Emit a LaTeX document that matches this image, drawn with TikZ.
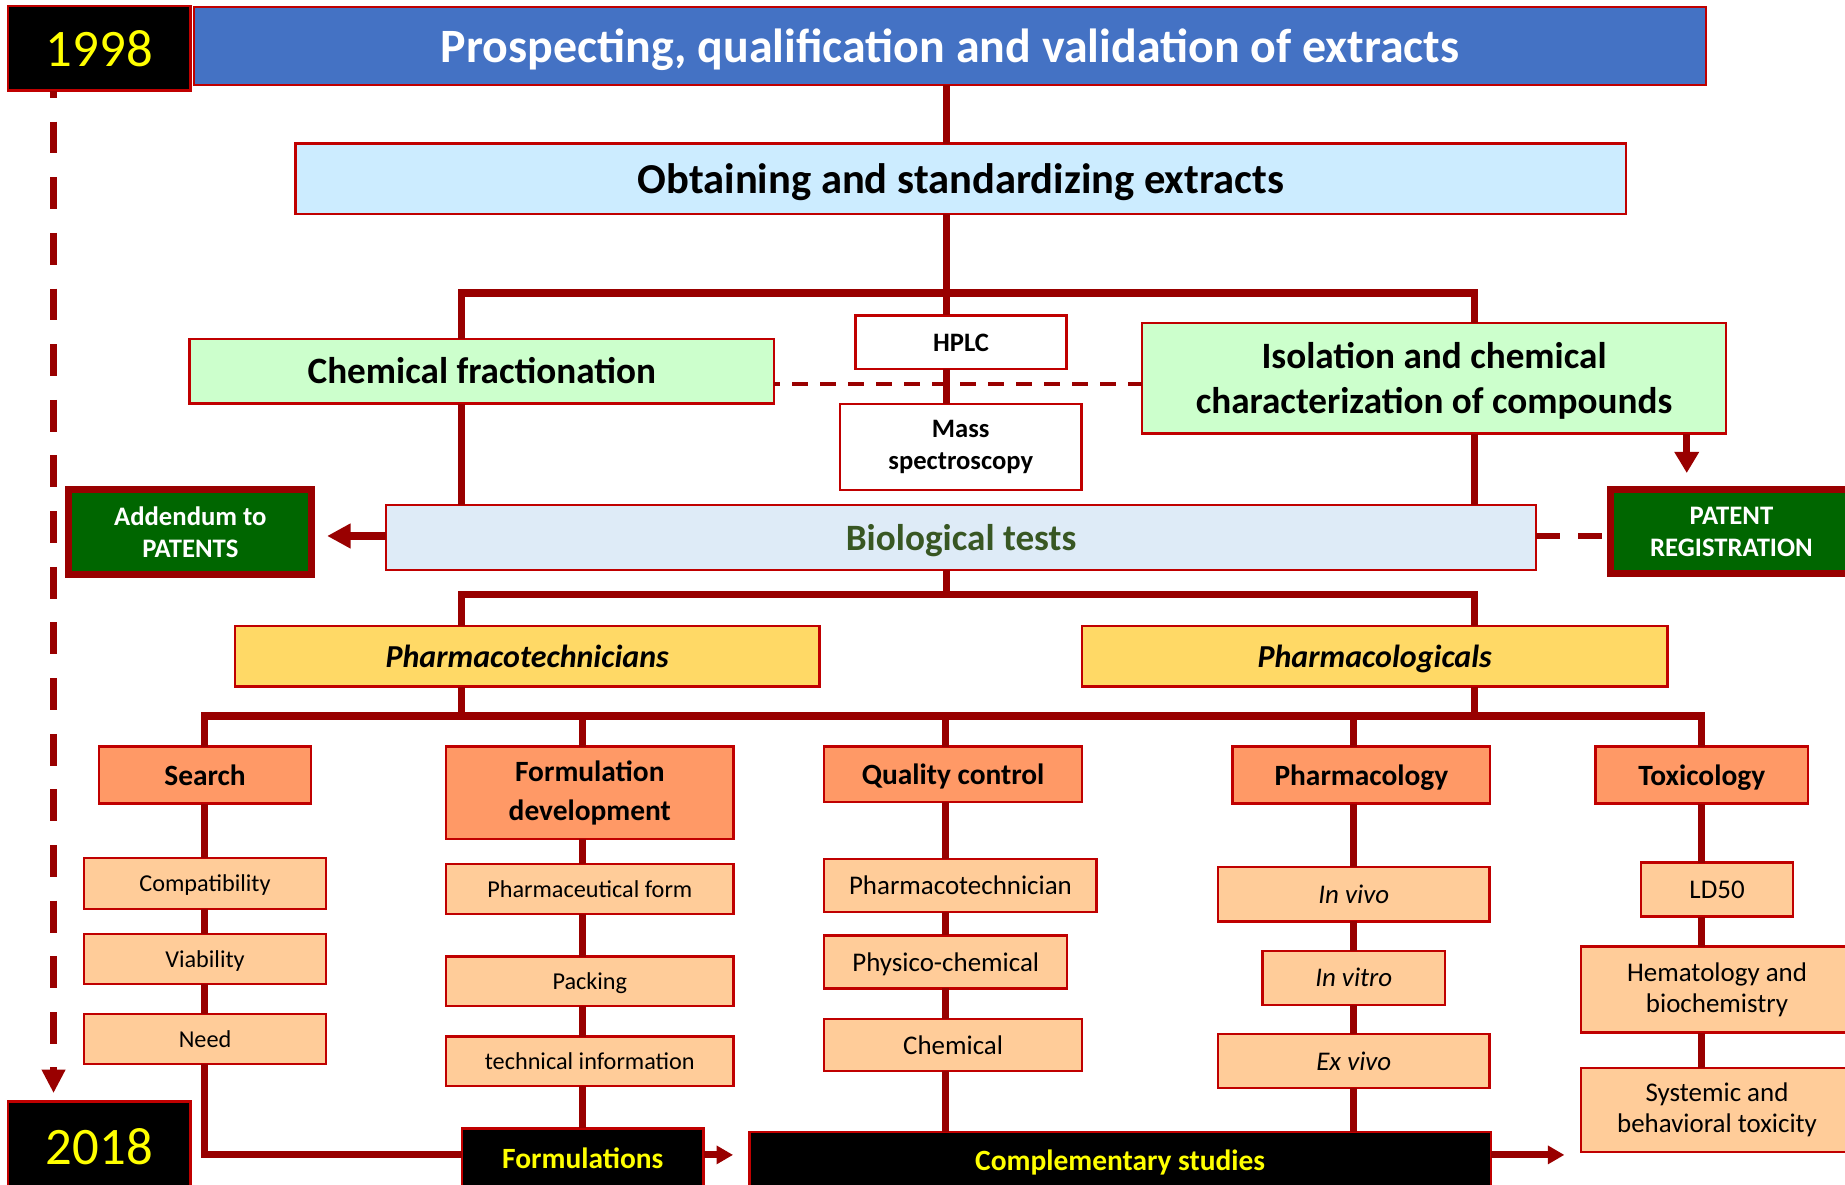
\documentclass[tikz,border=0pt]{standalone}
\usepackage{fontspec}
\setmainfont{Carlito}
\usetikzlibrary{arrows.meta}

\definecolor{wire}{HTML}{990000}
\definecolor{rim}{HTML}{C00000}
\definecolor{titleblue}{HTML}{4472C4}
\definecolor{skyfill}{HTML}{CCECFF}
\definecolor{mintfill}{HTML}{CCFFCC}
\definecolor{biofill}{HTML}{DEEBF7}
\definecolor{biotext}{HTML}{385723}
\definecolor{goldfill}{HTML}{FFD966}
\definecolor{orangefill}{HTML}{FF9966}
\definecolor{peachfill}{HTML}{FFCC99}
\definecolor{patentgreen}{HTML}{006600}
\definecolor{yearyellow}{HTML}{FFFF00}

% box from corner (x1,y1) to corner (x2,y2), y growing downwards
\newcommand\boxat[7]{%
  \node[#6, minimum width={(#4-#2)*0.5pt}, minimum height={(#5-#3)*0.5pt}]
    (#1) at ({(#2+#4)/2},{(#3+#5)/2}) {#7};}

\tikzset{
  box/.style={draw=rim, line width=1pt, inner sep=0pt, outer sep=0pt, align=center},
  % fixed ascent/descent so one-line labels sit on a common baseline
  solo/.style={execute at begin node={\rule{0pt}{0.96em}},
    execute at end node={\rule[-0.28em]{0pt}{0.28em}}},
  yearbox/.style={box, solo, fill=black, text=yearyellow, font=\fontsize{22.4}{26}\selectfont},
  titlebox/.style={box, solo, fill=titleblue, text=white, font=\fontsize{20.35}{24}\selectfont\bfseries},
  skybox/.style={box, solo, fill=skyfill, font=\fontsize{18.1}{21}\selectfont\bfseries},
  mintbox/.style={box, fill=mintfill, font=\fontsize{15.8}{19.1}\selectfont\bfseries},
  instrbox/.style={box, fill=white, font=\fontsize{11.3}{13.5}\selectfont\bfseries},
  greenbox/.style={box, draw=wire, line width=3pt, fill=patentgreen, text=white,
    font=\fontsize{11.35}{13.5}\selectfont\bfseries},
  biobox/.style={box, solo, fill=biofill, text=biotext, font=\fontsize{15.8}{19}\selectfont\bfseries},
  goldbox/.style={box, solo, fill=goldfill, font=\fontsize{13.6}{16}\selectfont\bfseries\itshape},
  headbox/.style={box, fill=orangefill, font=\fontsize{12.5}{16.5}\selectfont\bfseries},
  subbox/.style={box, solo, fill=peachfill, font=\fontsize{10.3}{13}\selectfont},
  subboxL/.style={box, fill=peachfill, font=\fontsize{11.45}{13.3}\selectfont},
  italbox/.style={subboxL, solo, font=\fontsize{11.45}{13.3}\selectfont\itshape},
  blackbox/.style={box, solo, fill=black, text=yearyellow, font=\fontsize{12.5}{14}\selectfont\bfseries},
  conn/.style={draw=wire, line width=3pt},
  dashconn/.style={draw=wire, line width=1.75pt, dash pattern=on 6.65pt off 5.25pt, dash phase=4.2pt},
}

\begin{document}
\begin{tikzpicture}[x=0.5pt, y=-0.5pt]
\useasboundingbox (0,0) rectangle (1568,1007);

% ---------- boxes ----------
\boxat{y98}{7}{5}{162}{77}{yearbox}{1998}
\boxat{title}{165}{6}{1450}{72}{titlebox}{Prospecting, qualification and validation of extracts}
\boxat{obtain}{251}{122}{1382}{182}{skybox}{Obtaining and standardizing extracts}
\boxat{chem}{161}{288}{658}{343}{mintbox, solo}{Chemical fractionation}
\boxat{iso}{970.5}{274.5}{1467}{368.5}{mintbox}{\rule{0pt}{0.86em}Isolation and chemical\\characterization of compounds}
\boxat{hplc}{727}{268}{906.5}{313.5}{instrbox, solo}{HPLC}
\boxat{mass}{714}{343.5}{919}{416.5}{instrbox}{Mass\\spectroscopy}
\boxat{addendum}{58.5}{416}{265}{488}{greenbox}{Addendum to\\PATENTS}
\boxat{patent}{1369}{416}{1574}{487.5}{greenbox}{PATENT\\REGISTRATION}
\boxat{bio}{328}{429}{1305.5}{484.5}{biobox}{Biological tests}
\boxat{ptech}{199.5}{532}{696.5}{583.5}{goldbox}{Pharmacotechnicians}
\boxat{pcol}{919.5}{532}{1417}{583.5}{goldbox}{Pharmacologicals}

\boxat{search}{84}{634.5}{264.5}{683}{headbox, solo}{Search}
\boxat{formdev}{379}{634.5}{623.5}{713}{headbox}{Formulation\\development}
\boxat{qc}{700.5}{634.5}{919.5}{681.5}{headbox, solo}{Quality control}
\boxat{pharm}{1047.5}{634.5}{1266.5}{683}{headbox, solo}{Pharmacology}
\boxat{tox}{1356}{634.5}{1536.5}{683}{headbox, solo}{Toxicology}

\boxat{compat}{71.5}{729}{277}{772.5}{subbox}{Compatibility}
\boxat{viab}{71.5}{794}{277}{836}{subbox}{Viability}
\boxat{need}{71.5}{862}{277}{904}{subbox}{Need}
\boxat{pform}{379}{734}{623.5}{777}{subbox}{Pharmaceutical form}
\boxat{pack}{379}{813}{623.5}{855}{subbox}{Packing}
\boxat{tinfo}{379}{881}{623.5}{923}{subbox}{technical information}
\boxat{qtech}{700.5}{730}{932}{775}{subboxL, solo}{Pharmacotechnician}
\boxat{physchem}{700.5}{795}{907}{840}{subboxL, solo}{Physico-chemical}
\boxat{chemq}{700.5}{866}{919.5}{910}{subboxL, solo}{Chemical}
\boxat{invivo}{1035}{737}{1266}{783}{italbox}{In vivo}
\boxat{invitro}{1073}{808}{1228}{854}{italbox}{In vitro}
\boxat{exvivo}{1035}{879}{1266}{924.5}{italbox}{Ex vivo}
\boxat{ld}{1394.5}{733}{1524}{779}{subboxL, solo}{LD50}
\boxat{hemato}{1343.5}{804.5}{1575}{877.5}{subboxL}{Hematology and\\biochemistry}
\boxat{systox}{1343.5}{907.5}{1575}{979}{subboxL}{Systemic and\\behavioral toxicity}

\boxat{formul}{392.5}{959}{598}{1010}{blackbox}{Formulations}
\boxat{comp}{637}{962}{1267}{1010}{blackbox}{Complementary studies}
\boxat{y18}{7}{936}{162}{1012}{yearbox}{2018}

% ---------- junction points ----------
\coordinate (mid) at (804,249);
\coordinate (leftx) at (392.5,249);
\coordinate (rightx) at (1253,249);
\coordinate (dashy) at (0,326);
\coordinate (px) at (1433.5,0);
\coordinate (by) at (0,455.5);
\coordinate (b0) at (804,505);
\coordinate (bL) at (392.5,505);
\coordinate (bR) at (1253,505);
\coordinate (c1) at (392.5,608.5);
\coordinate (c2) at (1253,608.5);
\coordinate (colS) at (174,608.5);
\coordinate (colF) at (495,608.5);
\coordinate (colQ) at (803.5,608.5);
\coordinate (colP) at (1150.5,608.5);
\coordinate (colT) at (1446,608.5);
\coordinate (elbow) at (174,981.5);
\coordinate (outtip) at (1329.5,981.5);
\coordinate (tl) at (45.5,0);
\coordinate (tlend) at (45.5,896);
\coordinate (tlhead) at (45.5,907);

% ---------- upper tree ----------
\draw[conn] (title.south -| mid) -- (obtain.north -| mid);
\draw[conn] (obtain.south -| mid) -- (mid);
\draw[conn] (chem.north -| leftx) -- (leftx) -- (rightx) -- (iso.north -| rightx);
\draw[conn] (mid) -- (hplc.north -| mid);
\draw[conn] (hplc.south -| mid) -- (mass.north -| mid);
\draw[conn] (chem.south -| leftx) -- (bio.north -| leftx);
\draw[conn] (iso.south -| rightx) -- (bio.north -| rightx);
\draw[dashconn] (chem.east |- dashy) -- (iso.west |- dashy);
\draw[conn, -{Triangle[length=9pt,width=10pt]}, shorten >=7pt]
  (iso.south -| px) -- (patent.north -| px);
\draw[conn, line width=3.3pt, -{Triangle[length=10pt,width=10pt]}, shorten >=6.5pt]
  (bio.west |- by) -- (addendum.east |- by);
\draw[draw=wire, line width=2.5pt, dash pattern=on 10pt off 7.8pt]
  (bio.east |- by) -- (patent.west |- by);

% ---------- lower tree ----------
\draw[conn] (bio.south -| b0) -- (b0);
\draw[conn] (ptech.north -| bL) -- (bL) -- (bR) -- (pcol.north -| bR);
\draw[conn] (ptech.south -| c1) -- (c1);
\draw[conn] (pcol.south -| c2) -- (c2);
\draw[conn] (search.north -| colS) -- (colS) -- (colT) -- (tox.north -| colT);
\draw[conn] (colF) -- (formdev.north -| colF);
\draw[conn] (colQ) -- (qc.north -| colQ);
\draw[conn] (colP) -- (pharm.north -| colP);

% search column
\draw[conn] (search.south -| colS) -- (compat.north -| colS);
\draw[conn] (compat.south -| colS) -- (viab.north -| colS);
\draw[conn] (viab.south -| colS) -- (need.north -| colS);
\draw[conn] (need.south -| colS) -- (elbow) -- (formul.west |- elbow);
% formulation column
\draw[conn] (formdev.south -| colF) -- (pform.north -| colF);
\draw[conn] (pform.south -| colF) -- (pack.north -| colF);
\draw[conn] (pack.south -| colF) -- (tinfo.north -| colF);
\draw[conn] (tinfo.south -| colF) -- (formul.north -| colF);
\draw[conn, -{Triangle[length=7pt,width=7.5pt]}, shorten >=7pt]
  (formul.east |- elbow) -- (comp.west |- elbow);
% quality control column
\draw[conn] (qc.south -| colQ) -- (qtech.north -| colQ);
\draw[conn] (qtech.south -| colQ) -- (physchem.north -| colQ);
\draw[conn] (physchem.south -| colQ) -- (chemq.north -| colQ);
\draw[conn] (chemq.south -| colQ) -- (comp.north -| colQ);
% pharmacology column
\draw[conn] (pharm.south -| colP) -- (invivo.north -| colP);
\draw[conn] (invivo.south -| colP) -- (invitro.north -| colP);
\draw[conn] (invitro.south -| colP) -- (exvivo.north -| colP);
\draw[conn] (exvivo.south -| colP) -- (comp.north -| colP);
% toxicology column
\draw[conn] (tox.south -| colT) -- (ld.north -| colT);
\draw[conn] (ld.south -| colT) -- (hemato.north -| colT);
\draw[conn] (hemato.south -| colT) -- (systox.north -| colT);
\draw[conn, -{Triangle[length=7pt,width=7.5pt]}] (comp.east |- outtip) -- (outtip);

% ---------- time line ----------
\draw[draw=wire, line width=3pt, dash pattern=on 13.5pt off 10.15pt, dash phase=10.5pt]
  (y98.south -| tl) -- (tlend);
\draw[draw=wire, line width=3pt, -{Triangle[length=10pt,width=9.5pt]}, shorten >=3.5pt]
  (tlhead) -- (y18.north -| tl);
\end{tikzpicture}
\end{document}
